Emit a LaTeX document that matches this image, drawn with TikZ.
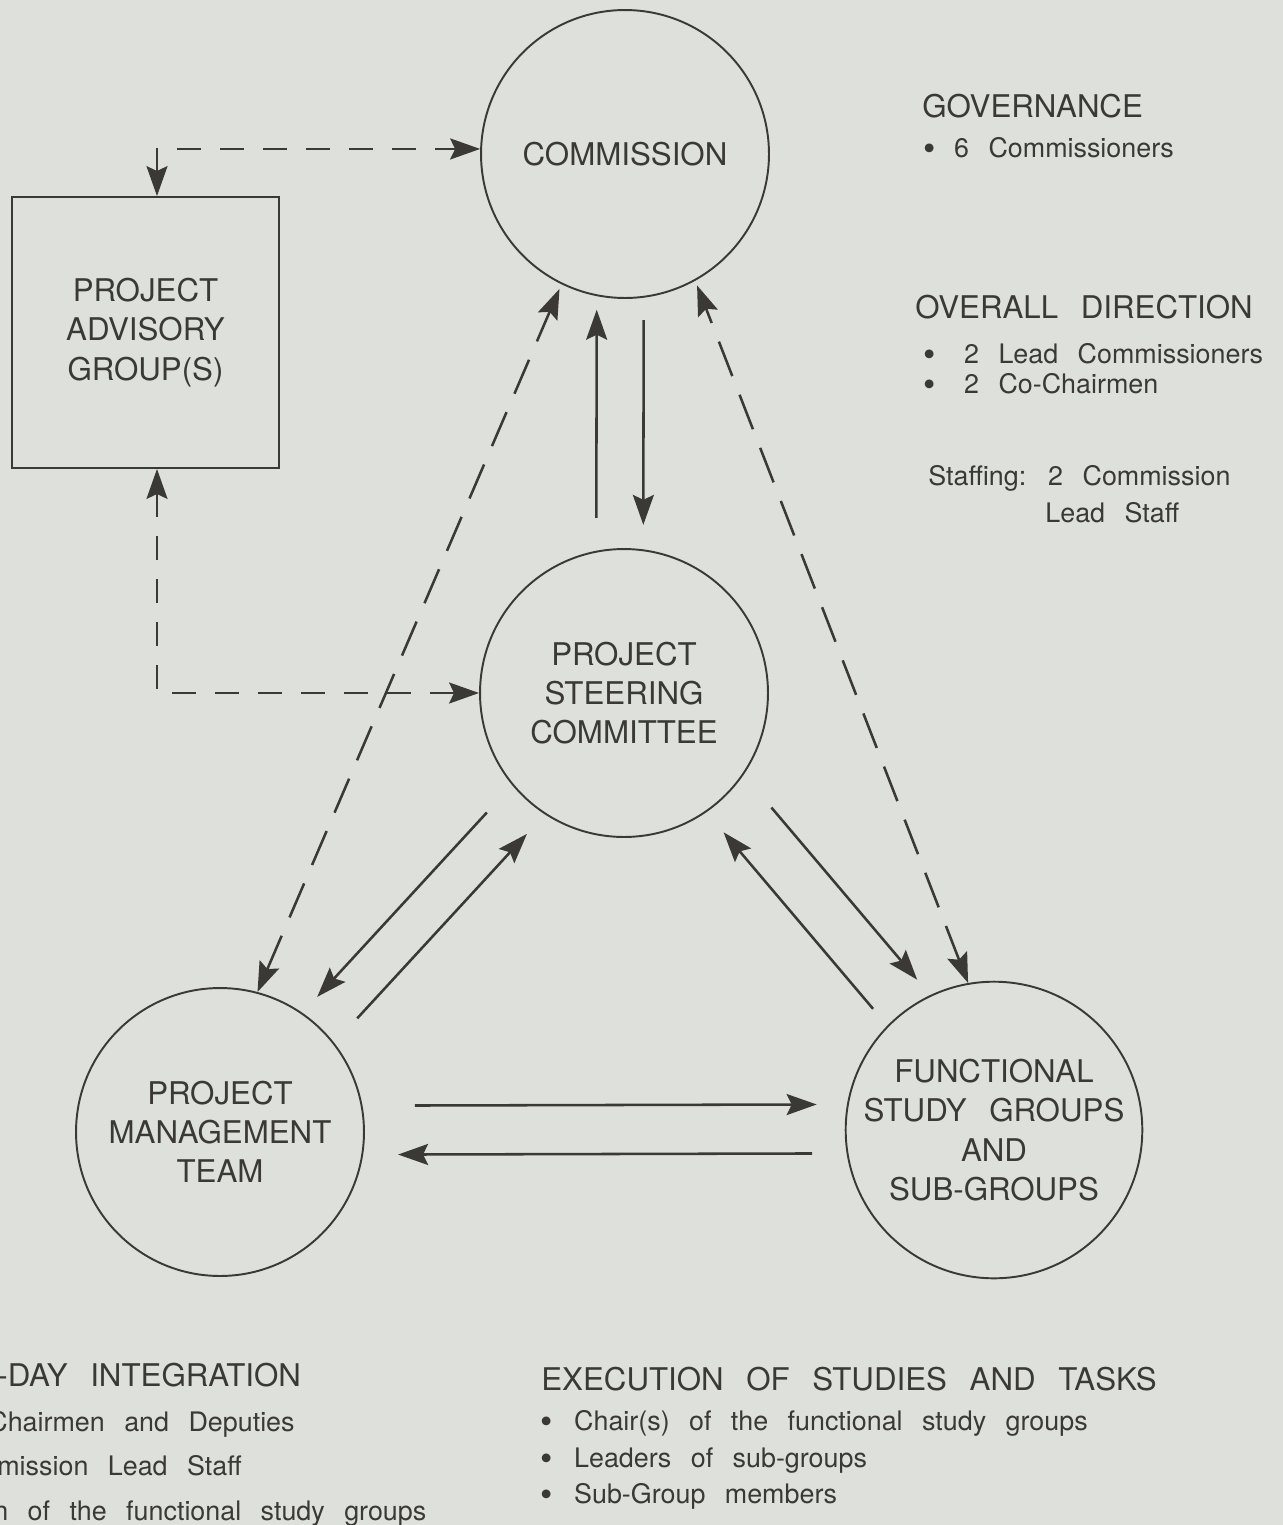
\documentclass[tikz,border=0pt]{standalone}
\usepackage{fontspec}
\setmainfont{TeX Gyre Heros}[WordSpace=2.6]
\usetikzlibrary{arrows.meta,calc}
\definecolor{paper}{RGB}{222,225,219}
\definecolor{ink}{RGB}{58,57,54}
\newcommand{\puce}{\smash{\raisebox{-2pt}{\fontsize{20}{20}\selectfont\textbullet}}}

\begin{document}
\begin{tikzpicture}[x=0.02cm, y=-0.02cm,
    >={Stealth[length=0.6cm, width=0.42cm, inset=0.1cm]},
    bulle/.style={circle, draw=ink, line width=1.1pt, minimum size=5.76cm, inner sep=0pt, align=center, text=ink, font=\fontsize{17.8}{22.3}\selectfont},
    boite/.style={draw=ink, line width=1.1pt, minimum width=5.34cm, minimum height=5.42cm, align=center, text=ink, font=\fontsize{17.8}{22.3}\selectfont},
    trait/.style={draw=ink, line width=1.45pt},
    tirets/.style={trait, dash pattern=on 0.48cm off 0.38cm},
    tiretsl/.style={trait, dash pattern=on 0.74cm off 0.4cm},
    titre/.style={anchor=base west, inner sep=0pt, text=ink, font=\fontsize{17.8}{21}\selectfont},
    liste/.style={anchor=base west, inner sep=0pt, text=ink, font=\fontsize{15.3}{18}\selectfont}]

    % fond
    \fill[paper] (0,0) rectangle (1283,1525);
    \useasboundingbox (0,0) rectangle (1283,1525);

    % cercles
    \node[bulle] (comm) at (625,154) {COMMISSION};
    \node[bulle] (steer) at (624,693) {PROJECT\\STEERING\\COMMITTEE};
    \node[bulle] (pmt) at (220,1132) {PROJECT\\MANAGEMENT\\TEAM};
    \node[bulle] (fsg) at (994,1130) {FUNCTIONAL\\STUDY GROUPS\\AND\\SUB-GROUPS};
    % groupe consultatif
    \node[boite] (pag) at (145.5,332.5) {PROJECT\\ADVISORY\\GROUP(S)};

    % commission <-> comite
    \draw[trait, ->] ($(comm)!.675!(steer)!.56cm!-90:(steer)$) -- ($(comm)!.289!(steer)!.56cm!-90:(steer)$);
    \draw[trait, ->] ($(comm)!.308!(steer)!.38cm!90:(steer)$) -- ($(comm)!.688!(steer)!.38cm!90:(steer)$);
    % comite <-> equipe
    \draw[trait, ->] ($(steer)!.303!(pmt)!.4cm!-90:(pmt)$) -- ($(steer)!.723!(pmt)!.4cm!-90:(pmt)$);
    \draw[trait, ->] ($(steer)!.704!(pmt)!.48cm!90:(pmt)$) -- ($(steer)!.284!(pmt)!.48cm!90:(pmt)$);
    % comite <-> groupes
    \draw[trait, ->] ($(steer)!.319!(fsg)!.77cm!90:(fsg)$) -- ($(steer)!.713!(fsg)!.77cm!90:(fsg)$);
    \draw[trait, ->] ($(steer)!.702!(fsg)!.28cm!-90:(fsg)$) -- ($(steer)!.298!(fsg)!.28cm!-90:(fsg)$);
    % equipe <-> groupes
    \draw[trait, ->] ($(pmt)!.252!(fsg)!.52cm!90:(fsg)$) -- ($(pmt)!.771!(fsg)!.52cm!90:(fsg)$);
    \draw[trait, ->] ($(pmt)!.765!(fsg)!.46cm!-90:(fsg)$) -- ($(pmt)!.230!(fsg)!.46cm!-90:(fsg)$);

    % liens en tirets
    \draw[tiretsl, <->, shorten >=0.1cm] (pmt.75) -- (comm.244);
    \draw[tiretsl, <->, shorten >=0.1cm] (fsg.100) -- (comm.299);
    \draw[tirets, <->] ([xshift=0.23cm]pag.north) |- (comm.178);
    \draw[tirets, <->] ([xshift=0.23cm]pag.south) |- (steer.west);

    % textes a droite
    \node[titre] (gov) at (922,117) {GOVERNANCE};
    \node[liste] (gov1) at (923,157) {\puce\hspace{0.37cm}6 Commissioners};
    \node[titre] (dir) at (915,318) {OVERALL DIRECTION};
    \node[liste] (dir1) at (923,363) {\puce\hspace{0.57cm}2 Lead Commissioners};
    \node[liste] (dir2) at (923,393) {\puce\hspace{0.57cm}2 Co-Chairmen};
    \node[liste] (staff) at (928,485) {Staffing: 2 Commission};
    \node[liste] (staff2) at (1045,522) {Lead Staff};

    % textes en bas a gauche
    \node[titre] (integ) at (-3,1386) {-DAY INTEGRATION};
    \node[liste] (integ1) at (-12,1431) {Chairmen and Deputies};
    \node[liste] (integ2) at (-3,1475) {mission Lead Staff};
    \node[liste] (integ3) at (-7,1520) {n of the functional study groups};

    % textes en bas a droite
    \node[titre] (exec) at (541,1390) {EXECUTION OF STUDIES AND TASKS};
    \node[liste] (exec1) at (540,1430) {\puce\hspace{0.43cm}Chair(s) of the functional study groups};
    \node[liste] (exec2) at (540,1467) {\puce\hspace{0.43cm}Leaders of sub-groups};
    \node[liste] (exec3) at (540,1503) {\puce\hspace{0.43cm}Sub-Group members};
\end{tikzpicture}
\end{document}
